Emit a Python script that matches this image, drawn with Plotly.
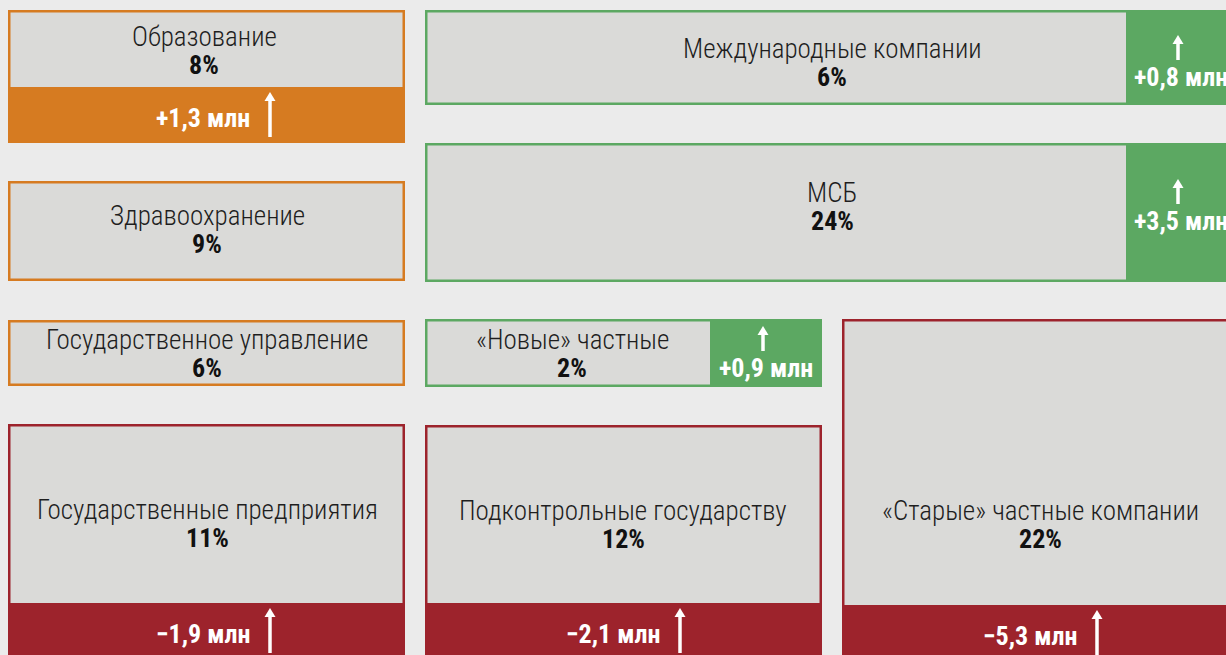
import plotly.graph_objects as go

# ---- data ----
names = ["Образование", "Здравоохранение", "Государственное управление",
         "Государственные предприятия", "Международные компании", "МСБ",
         "«Новые» частные", "Подконтрольные государству", "«Старые» частные компании"]
shares = [8, 9, 6, 11, 6, 24, 2, 12, 22]
changes = [1.3, None, None, -1.9, 0.8, 3.5, 0.9, -2.1, -5.3]
groups = ["budget", "budget", "budget", "decline", "growth", "growth", "growth", "decline", "decline"]

# ---- layout geometry (x0, x1, y0, y1, band side, band edge, label cx, label cy, arrow x) ----
boxes = [
    (8, 405, 10, 143, "bottom", 87, 204, 51, 270),
    (8, 405, 181, 281, None, None, 207, 230, None),
    (8, 405, 320, 386, None, None, 207, 354, None),
    (8, 405, 424, 670, "bottom", 603, 207, 524, 270),
    (425, 1236, 10, 105, "right", 1126, 832, 63, 1178),
    (425, 1236, 143, 282, "right", 1126, 832, 207, 1178),
    (425, 822, 319, 387, "right", 710, 572, 354, 763),
    (425, 822, 425, 670, "bottom", 603, 623, 525, 680),
    (842, 1236, 319, 670, "bottom", 605, 1040, 525, 1097),
]

colors = {"budget": "#d67b21", "growth": "#5ca862", "decline": "#9d232c"}
GREY = "#dadad8"
BG = "#ebebeb"
BW = 2.5
W, H = 1226, 655

FONT = "Roboto Condensed, Roboto, sans-serif"


def fmt_change(v):
    s = f"{abs(v):.1f}".replace(".", ",")
    return ("+" if v > 0 else "\u2212") + s + " млн"


fig = go.Figure()
fig.add_trace(go.Scatter(x=[0, W], y=[0, H], mode="markers", marker=dict(opacity=0),
                         hoverinfo="skip", showlegend=False))

shapes = []
annotations = []


def arrow(xc, ytop, ybot):
    shapes.append(dict(type="line", x0=xc, x1=xc, y0=ytop + 7, y1=ybot,
                       line=dict(color="white", width=3.5), layer="above"))
    shapes.append(dict(type="path",
                       path=f"M {xc-5.5},{ytop+9} L {xc},{ytop} L {xc+5.5},{ytop+9} Z",
                       fillcolor="white", line=dict(width=0), layer="above"))


for i, (x0, x1, y0, y1, band, edge, lx, ly, ax) in enumerate(boxes):
    col = colors[groups[i]]
    shapes.append(dict(type="rect", x0=x0, x1=x1, y0=y0, y1=y1,
                       fillcolor=col, line=dict(width=0), layer="below"))
    gx0, gx1, gy0, gy1 = x0 + BW, x1 - BW, y0 + BW, y1 - BW
    if band == "bottom":
        gy1 = edge
    elif band == "right":
        gx1 = edge
    shapes.append(dict(type="rect", x0=gx0, x1=gx1, y0=gy0, y1=gy1,
                       fillcolor=GREY, line=dict(width=0), layer="below"))

    annotations.append(dict(x=lx, y=ly - 14, text=names[i], showarrow=False,
                            xanchor="center", yanchor="middle",
                            font=dict(family=FONT, size=27, color="#1e1e1e", weight=300)))
    annotations.append(dict(x=lx, y=ly + 14, text=f"<b>{shares[i]}%</b>", showarrow=False,
                            xanchor="center", yanchor="middle",
                            font=dict(family=FONT, size=26, color="#111111")))

    ch = changes[i]
    if ch is None:
        continue
    if band == "bottom":
        ty = edge + 31
        annotations.append(dict(x=ax - 18, y=ty, text=f"<b>{fmt_change(ch)}</b>", showarrow=False,
                                xanchor="right", yanchor="middle",
                                font=dict(family=FONT, size=26, color="white")))
        arrow(ax, edge + 5, edge + 50)
    else:
        bc = (edge + x1) / 2
        ty = ly + 14
        annotations.append(dict(x=bc, y=ty, text=f"<b>{fmt_change(ch)}</b>", showarrow=False,
                                xanchor="center", yanchor="middle",
                                font=dict(family=FONT, size=26, color="white")))
        arrow(ax, ty - 42, ty - 17)

fig.update_layout(
    width=W, height=H, margin=dict(l=0, r=0, t=0, b=0),
    paper_bgcolor=BG, plot_bgcolor=BG,
    xaxis=dict(range=[0, W], visible=False, fixedrange=True),
    yaxis=dict(range=[H, 0], visible=False, fixedrange=True),
    shapes=shapes, annotations=annotations, showlegend=False,
)

fig.write_html("out.html", config={"displayModeBar": False},
               post_script="document.body.style.margin='0';document.body.style.overflow='hidden';")
